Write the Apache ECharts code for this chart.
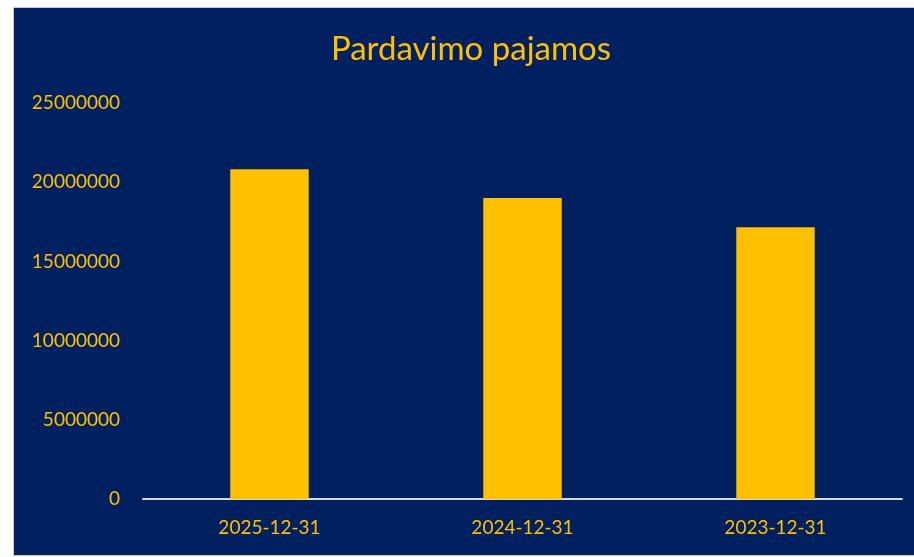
<!DOCTYPE html>
<html>
<head>
<meta charset="utf-8">
<script src="https://cdn.jsdelivr.net/npm/echarts@6/dist/echarts.min.js"></script>
<style>
html,body{margin:0;padding:0;background:#ffffff;width:914px;height:557px;overflow:hidden;}
#frame{position:absolute;left:13px;top:7px;width:901px;height:549px;background:#c8c8c8;}
#chart{position:absolute;left:14px;top:8px;width:900px;height:547px;}
</style>
</head>
<body>
<div id="frame"></div>
<div id="chart"></div>
<script>
const titleText = 'Pardavimo pajamos';
const categories = ['2025-12-31', '2024-12-31', '2023-12-31'];
const salesValues = [20810000, 19000000, 17150000];
const yMin = 0, yMax = 25000000, yStep = 5000000;

const chart = echarts.init(document.getElementById('chart'), null, {renderer: 'canvas'});
const gold = '#FFC000';
const font = 'Lato, "Open Sans", sans-serif';
chart.setOption({
  backgroundColor: '#002060',
  animation: false,
  title: {
    text: titleText,
    left: 452,
    top: 20,
    textAlign: 'center',
    textStyle: {color: gold, fontSize: 33, fontWeight: 'normal', fontFamily: font}
  },
  grid: {left: 129, right: 12, top: 95, bottom: 56, containLabel: false},
  xAxis: {
    type: 'category',
    data: categories,
    axisLine: {lineStyle: {color: '#D9D9D9', width: 2}},
    axisTick: {show: false},
    axisLabel: {color: gold, fontSize: 19, fontFamily: font, margin: 19}
  },
  yAxis: {
    type: 'value',
    min: yMin, max: yMax, interval: yStep,
    axisLine: {show: false},
    axisTick: {show: false},
    splitLine: {show: false},
    axisLabel: {color: gold, fontSize: 19, fontFamily: font, margin: 23,
      formatter: function (v) { return String(v); }}
  },
  series: [{
    type: 'bar',
    data: salesValues,
    barWidth: '31%',
    itemStyle: {color: gold}
  }]
});
</script>
</body>
</html>
